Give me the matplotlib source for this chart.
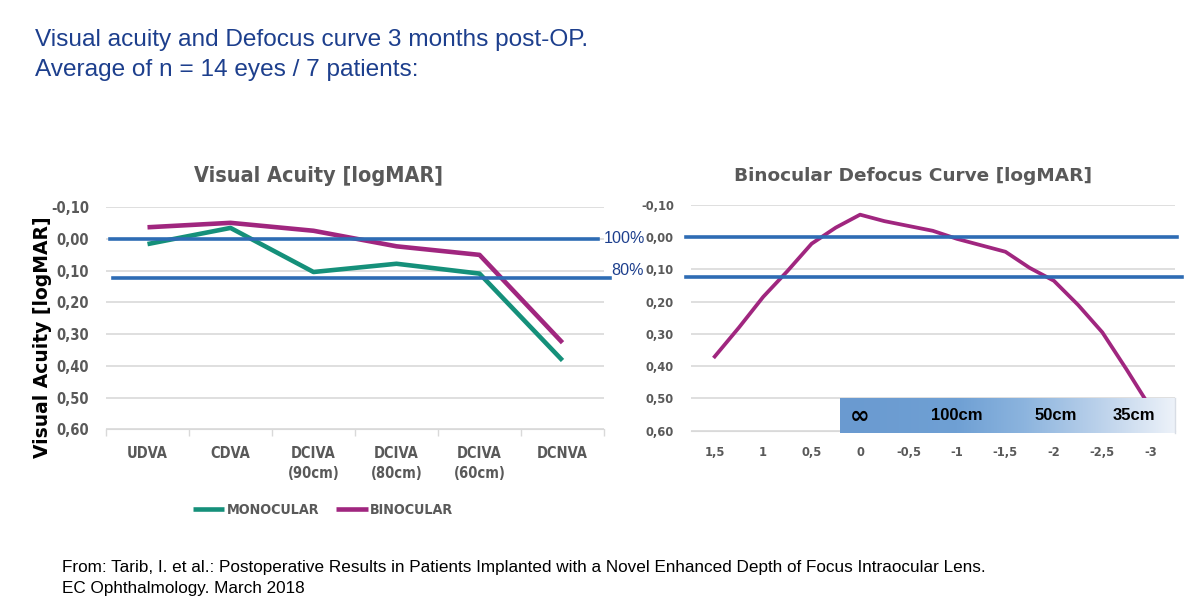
import numpy as np
import matplotlib
matplotlib.use("Agg")
import matplotlib.pyplot as plt
from matplotlib.colors import LinearSegmentedColormap

# left chart: visual acuity per test
tests = ["UDVA", "CDVA", "DCIVA\n(90cm)", "DCIVA\n(80cm)", "DCIVA\n(60cm)", "DCNVA"]
mono = [0.016, -0.035, 0.104, 0.078, 0.109, 0.383]
bino = [-0.037, -0.051, -0.026, 0.023, 0.050, 0.327]

# right chart: binocular defocus curve
defocus = [1.5, 1.25, 1.0, 0.75, 0.5, 0.25, 0.0, -0.25, -0.5, -0.75, -1.0,
           -1.25, -1.5, -1.75, -2.0, -2.25, -2.5, -2.75, -3.0]
defocus_va = [0.37, 0.28, 0.185, 0.105, 0.02, -0.03, -0.07, -0.05, -0.035, -0.02, 0.005,
              0.025, 0.045, 0.095, 0.135, 0.21, 0.295, 0.41, 0.53]
defocus_ticks = [1.5, 1.0, 0.5, 0.0, -0.5, -1.0, -1.5, -2.0, -2.5, -3.0]
distances = ["\u221e", "100cm", "50cm", "35cm"]
distance_pos = [0.0, -1.0, -2.02, -2.83]

yticks = [-0.1, 0.0, 0.1, 0.2, 0.3, 0.4, 0.5, 0.6]
lines = [(0.0, "100%"), (0.122, "80%")]

GREEN = "#15907a"
PURPLE = "#a0267f"
BLUE = "#2e6cb4"
DARKBLUE = "#1d3f8d"
GREY = "#595959"
GRID = "#d9d9d9"


def fmt(v):
    return ("%.2f" % v).replace(".", ",").replace("-0,00", "0,00")


fig = plt.figure(figsize=(12, 6.15), dpi=100)
W, H = 1200.0, 615.0


def box(x0, y0, x1, y1):
    return [x0 / W, 1 - y1 / H, (x1 - x0) / W, (y1 - y0) / H]


cond = dict(family="DejaVu Sans", fontstretch="condensed", fontweight="bold")

# ---- left chart
ax1 = fig.add_axes(box(106, 207.3, 604, 429.3))
x = np.arange(len(tests))
ax1.plot(x, mono, color=GREEN, lw=3.3, solid_capstyle="butt", label="MONOCULAR", zorder=3)
ax1.plot(x, bino, color=PURPLE, lw=3.3, solid_capstyle="butt", label="BINOCULAR", zorder=3)
ax1.set_xlim(-0.5, len(tests) - 0.5)
ax1.set_ylim(0.6, -0.1)
ax1.set_yticks(yticks)
ax1.set_yticklabels([fmt(v) for v in yticks], color=GREY, **cond, fontsize=10.5)
ax1.set_xticks(x)
ax1.set_xticklabels(tests, color=GREY, **cond, fontsize=10.5, linespacing=1.4)
ax1.set_xticks(np.arange(-0.5, len(tests)), minor=True)
ax1.tick_params(axis="x", which="major", length=0, pad=12)
ax1.tick_params(axis="x", which="minor", length=5, color=GRID, width=1)
ax1.tick_params(axis="y", length=0, pad=12)
ax1.grid(axis="y", color=GRID, lw=1.2)
for s in ax1.spines.values():
    s.set_visible(False)
ax1.spines["bottom"].set_visible(True)
ax1.spines["bottom"].set_color(GRID)
ax1.set_axisbelow(True)
ax1.set_title("Visual Acuity [logMAR]", color=GREY, **cond, fontsize=15.5, pad=18, x=0.426)
ax1.set_ylabel("Visual Acuity [logMAR]", fontweight="bold", family="DejaVu Sans",
               fontsize=13.5, color="black", va="center")
ax1.yaxis.set_label_coords(-0.1285, 0.416)

fig.legend(loc="center", bbox_to_anchor=(323 / W, 1 - 510 / H), ncol=2, frameon=False,
           handlelength=2.2, handletextpad=0.15, columnspacing=1.2,
           prop=dict(family="DejaVu Sans", stretch="condensed", weight="bold", size=10.3),
           labelcolor=GREY)

# ---- right chart
ax2 = fig.add_axes(box(690.5, 205, 1175, 430.7))
ax2.plot(defocus, defocus_va, color=PURPLE, lw=2.7, zorder=3)
ax2.set_xlim(1.75, -3.25)
ax2.set_ylim(0.6, -0.1)
ax2.set_yticks(yticks)
ax2.set_yticklabels([fmt(v) for v in yticks], color=GREY, family="DejaVu Sans",
                    fontweight="bold", fontsize=8.3)
ax2.set_xticks(defocus_ticks)
ax2.set_xticklabels([("%g" % v).replace(".", ",") for v in defocus_ticks], color=GREY,
                    family="DejaVu Sans", fontweight="bold", fontsize=8.3)
ax2.tick_params(length=0)
ax2.tick_params(axis="y", pad=12)
ax2.tick_params(axis="x", pad=11)
ax2.grid(axis="y", color=GRID, lw=1.2)
for s in ax2.spines.values():
    s.set_visible(False)
ax2.spines["bottom"].set_visible(True)
ax2.spines["bottom"].set_color(GRID)
ax2.set_axisbelow(True)
ax2.set_title("Binocular Defocus Curve [logMAR]", color=GREY, family="DejaVu Sans",
              fontweight="bold", fontsize=13.3, pad=17, x=0.459)

# distance box with gradient
cmap = LinearSegmentedColormap.from_list(
    "dist", [(0, "#6a9ad0"), (0.35, "#6fa0d4"), (0.55, "#8cb4de"),
             (0.78, "#bcd2eb"), (1, "#edf2f9")])
grad = np.linspace(0, 1, 256).reshape(1, -1)
ax2.imshow(grad, cmap=cmap, aspect="auto", extent=(0.207, -3.25, 0.607, 0.5),
           zorder=4, clip_on=False, interpolation="bicubic")
ax2.plot([-3.25, -3.25], [0.5, 0.607], color="#d8dde5", lw=1, zorder=5, clip_on=False)
ax2.set_xlim(1.75, -3.25)
ax2.set_ylim(0.6, -0.1)
for lab, pos in zip(distances, distance_pos):
    if lab == "\u221e":
        ax2.text(pos, 0.553, lab, ha="center", va="center", fontsize=17,
                 fontweight="bold", family="DejaVu Sans", color="black", zorder=6)
    else:
        ax2.text(pos, 0.553, lab, ha="center", va="center", fontsize=12,
                 fontweight="bold", family="Liberation Sans", color="black", zorder=6)

# reference lines across both charts
for (yv, lab), (l0, l1, r0, r1, tx, dy) in zip(lines, [(0.008, 0.988, -0.009, 1.004, 604, 1),
                                                      (0.014, 1.012, -0.009, 1.014, 611, -6.5)]):
    ax1.axhline(yv, l0, l1, color=BLUE, lw=2.6, zorder=4, clip_on=False)
    ax2.axhline(yv, r0, r1, color=BLUE, lw=2.6, zorder=4, clip_on=False)
    ypix = ax2.transData.transform((0, yv))[1]
    fig.text(tx / W, (ypix + (-dy)) / H, lab, ha="left", va="center", color=DARKBLUE,
             family="Liberation Sans", fontsize=11.6)

# header and footer
fig.text(35 / W, 1 - 40 / H, "Visual acuity and Defocus curve 3 months post-OP.",
         color=DARKBLUE, family="Liberation Sans", fontsize=17.6, va="center")
fig.text(35 / W, 1 - 70 / H, "Average of n = 14 eyes / 7 patients:",
         color=DARKBLUE, family="Liberation Sans", fontsize=17.6, va="center")
fig.text(62 / W, 1 - 567.5 / H,
         "From: Tarib, I. et al.: Postoperative Results in Patients Implanted with a Novel "
         "Enhanced Depth of Focus Intraocular Lens.",
         color="black", family="Liberation Sans", fontsize=12.3, va="center")
fig.text(62 / W, 1 - 588 / H, "EC Ophthalmology. March 2018",
         color="black", family="Liberation Sans", fontsize=12.3, va="center")

fig.savefig("out.png", dpi=100)
